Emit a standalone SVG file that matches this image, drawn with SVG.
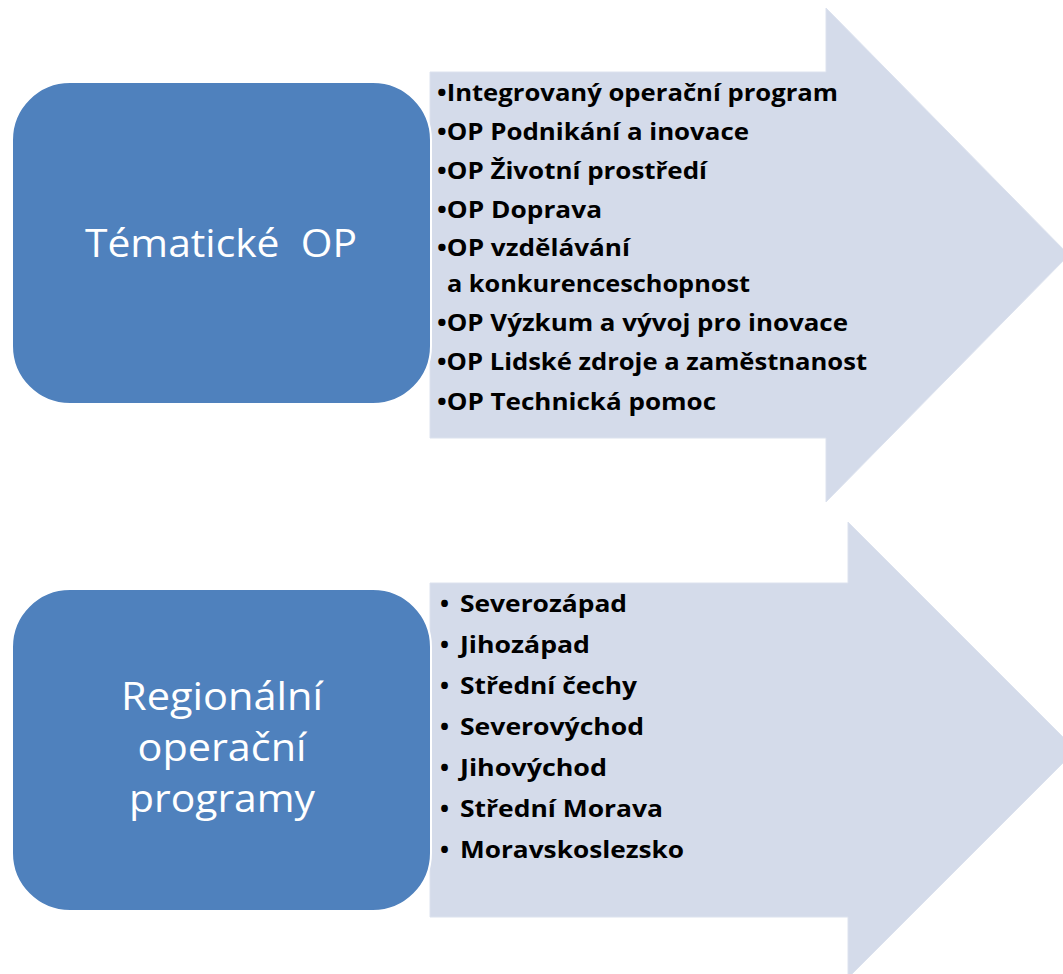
<svg xmlns="http://www.w3.org/2000/svg" width="1063" height="974" viewBox="0 0 1063 974">
<style>
.arrow{fill:#D4DBEA;stroke:#DCE2EE;stroke-width:1}
.box{fill:#4F81BD;stroke:#FFFFFF;stroke-width:2}
.title{font-family:"Open Sans","Noto Sans",sans-serif;font-size:38px;fill:#FFFFFF;text-anchor:middle}
.item{font-family:"Open Sans","Noto Sans",sans-serif;font-weight:bold;font-size:24px;fill:#000000}
</style>
<rect width="1063" height="974" fill="#FFFFFF"/>
<g id="connectors">
  <polygon id="arrow1" class="arrow" points="430,72 826,72 826,8 1069,255 826,502 826,438 430,438"/>
  <polygon id="arrow2" class="arrow" points="430,583 848,583 848,522 1076,750 848,978 848,917 430,917"/>
</g>
<g id="node-tematicke">
  <rect class="box" x="12" y="82" width="419" height="322" rx="58" ry="58"/>
  <text class="title" x="221" y="257" textLength="272" lengthAdjust="spacingAndGlyphs" xml:space="preserve">Tématické  OP</text>
</g>
<g id="node-regionalni">
  <rect class="box" x="12" y="589" width="419" height="322" rx="58" ry="58"/>
  <text class="title" x="222" y="710" textLength="202" lengthAdjust="spacingAndGlyphs">Regionální</text>
  <text class="title" x="222" y="761" textLength="169" lengthAdjust="spacingAndGlyphs">operační</text>
  <text class="title" x="222" y="812" textLength="186" lengthAdjust="spacingAndGlyphs">programy</text>
</g>
<g id="list-tematicke">
  <text class="item" x="437" y="101" textLength="401" lengthAdjust="spacingAndGlyphs">•Integrovaný operační program</text>
  <text class="item" x="437" y="140" textLength="312" lengthAdjust="spacingAndGlyphs">•OP Podnikání a inovace</text>
  <text class="item" x="437" y="179" textLength="270" lengthAdjust="spacingAndGlyphs">•OP Životní prostředí</text>
  <text class="item" x="437" y="218" textLength="165" lengthAdjust="spacingAndGlyphs">•OP Doprava</text>
  <text class="item" x="437" y="256" textLength="193" lengthAdjust="spacingAndGlyphs">•OP vzdělávání</text>
  <text class="item" x="447" y="292" textLength="303" lengthAdjust="spacingAndGlyphs">a konkurenceschopnost</text>
  <text class="item" x="437" y="331" textLength="411" lengthAdjust="spacingAndGlyphs">•OP Výzkum a vývoj pro inovace</text>
  <text class="item" x="437" y="370" textLength="430" lengthAdjust="spacingAndGlyphs">•OP Lidské zdroje a zaměstnanost</text>
  <text class="item" x="437" y="410" textLength="279" lengthAdjust="spacingAndGlyphs">•OP Technická pomoc</text>
</g>
<g id="list-regionalni">
  <text class="item" x="440" y="612">•</text>
  <text class="item" x="460" y="612" textLength="167" lengthAdjust="spacingAndGlyphs">Severozápad</text>
  <text class="item" x="440" y="653">•</text>
  <text class="item" x="460" y="653" textLength="130" lengthAdjust="spacingAndGlyphs">Jihozápad</text>
  <text class="item" x="440" y="694">•</text>
  <text class="item" x="460" y="694" textLength="177" lengthAdjust="spacingAndGlyphs">Střední čechy</text>
  <text class="item" x="440" y="735">•</text>
  <text class="item" x="460" y="735" textLength="184" lengthAdjust="spacingAndGlyphs">Severovýchod</text>
  <text class="item" x="440" y="776">•</text>
  <text class="item" x="460" y="776" textLength="147" lengthAdjust="spacingAndGlyphs">Jihovýchod</text>
  <text class="item" x="440" y="817">•</text>
  <text class="item" x="460" y="817" textLength="203" lengthAdjust="spacingAndGlyphs">Střední Morava</text>
  <text class="item" x="440" y="858">•</text>
  <text class="item" x="460" y="858" textLength="224" lengthAdjust="spacingAndGlyphs">Moravskoslezsko</text>
</g>
</svg>
